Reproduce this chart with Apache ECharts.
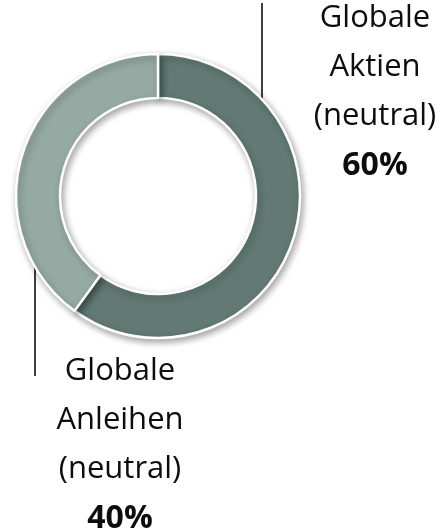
<!DOCTYPE html>
<html>
<head>
<meta charset="utf-8">
<script src="https://cdn.jsdelivr.net/npm/echarts@6/dist/echarts.min.js"></script>
<style>
html,body{margin:0;padding:0;background:#fff;}
#chart{width:443px;height:531px;}
</style>
</head>
<body>
<div id="chart"></div>
<script>
var categories = ['Globale Aktien (neutral)', 'Globale Anleihen (neutral)'];
var values = [60, 40];
var colors = ['#627a73', '#95aaa3'];

var chart = echarts.init(document.getElementById('chart'), null, {renderer: 'canvas'});

var labelPos = [
  {x: 375, y: 92, line: [[262, 131], [262, 3], [262, 3]]},
  {x: 120, y: 445, line: [[35, 200], [35, 376], [35, 376]]}
];

var option = {
  animation: false,
  series: [{
    type: 'pie',
    center: [158, 196],
    radius: [98, 142],
    startAngle: 90,
    clockwise: true,
    silent: true,
    avoidLabelOverlap: false,
    data: categories.map(function (c, i) {
      return {name: c, value: values[i], itemStyle: {color: colors[i]}};
    }),
    itemStyle: {
      borderColor: '#ffffff',
      borderWidth: 2.5,
      shadowBlur: 7,
      shadowColor: 'rgba(0,0,0,0.35)',
      shadowOffsetX: 2,
      shadowOffsetY: 3
    },
    label: {
      show: true,
      position: 'outside',
      overflow: 'none',
      width: 200,
      formatter: function (p) {
        var lines = p.name.split(' ').map(function (w) { return '{n|' + w + '}'; });
        lines.push('{b|' + p.value + '%}');
        return lines.join('\n');
      },
      rich: {
        n: {fontFamily: 'Open Sans', fontSize: 31, color: '#0d0d0d', lineHeight: 49, align: 'center'},
        b: {fontFamily: 'Open Sans', fontSize: 32, fontWeight: 'bold', color: '#0d0d0d', lineHeight: 49, align: 'center'}
      }
    },
    labelLine: {
      show: true,
      lineStyle: {color: '#404040', width: 2}
    },
    labelLayout: function (params) {
      var p = labelPos[params.dataIndex];
      return {
        x: p.x,
        y: p.y,
        align: 'center',
        verticalAlign: 'middle',
        hideOverlap: false,
        labelLinePoints: p.line
      };
    }
  }]
};
chart.setOption(option);
</script>
</body>
</html>
